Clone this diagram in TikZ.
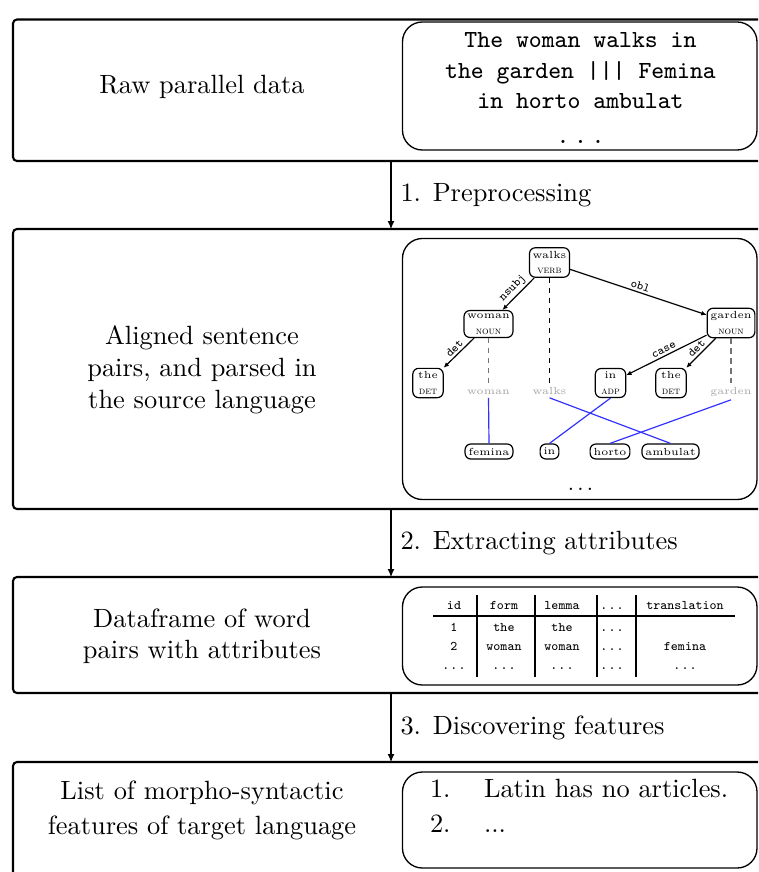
\documentclass[tikz,border=0pt]{standalone}
\usetikzlibrary{arrows.meta}
\def\pxu{0.3788pt}
\newcommand\spdots[1]{.\kern#1.\kern#1.}
\definecolor{alignblue}{RGB}{50,50,255}
\tikzset{
  outerbox/.style={draw, line width=0.8pt, rounded corners=1.5pt, inner sep=0pt, outer sep=0pt, anchor=north west},
  innerbox/.style={draw, line width=0.5pt, rounded corners=7.5pt, inner sep=0pt, outer sep=0pt, anchor=north west, minimum width={354.5*\pxu}},
  flow/.style={-{Latex[length=3pt,width=2.6pt]}, line width=0.4pt},
  steplabel/.style={anchor=west, inner sep=0pt, xshift=3.4pt, font=\fontsize{10}{12}\selectfont},
  sidetext/.style={align=center, inner sep=0pt},
  tnode/.style={draw, rounded corners=2.2pt, line width=0.45pt, inner sep=1.2pt, align=center, minimum width=11.5pt, font=\fontsize{3.9}{6}\selectfont},
  leaf/.style={draw, rounded corners=2.2pt, line width=0.45pt, inner xsep=1.3pt, inner ysep=0pt, minimum height=5.7pt, font=\fontsize{3.9}{6}\selectfont},
  gword/.style={text=black!35, inner sep=1.2pt, anchor=base, font=\fontsize{3.9}{6}\selectfont},
  dep/.style={-{Latex[length=2pt,width=1.8pt]}, line width=0.45pt},
  deplbl/.style={sloped, above, inner sep=0.8pt, font=\fontsize{4.6}{5}\ttfamily},
  proj/.style={dash pattern=on 2pt off 1.8pt, line width=0.5pt},
  alignline/.style={line width=0.45pt, draw=alignblue},
  cell/.style={anchor=base, inner sep=0pt, font=\fontsize{5}{6}\ttfamily},
  rawtxt/.style={anchor=base, inner sep=0pt, font=\fontsize{9.3}{11.5}\ttfamily},
  listtxt/.style={anchor=base west, inner sep=0pt, font=\fontsize{10}{12}\selectfont},
  rule/.style={line width=0.4pt},
}
\begin{document}
\begin{tikzpicture}[x=0.3788pt, y=-0.3788pt]
\useasboundingbox (0,0) rectangle (758,872);
\clip (0,0) rectangle (758,872);
\fill[white] (0,0) rectangle (758,872);

% outer stage boxes
\node[outerbox, minimum width={767*\pxu}, minimum height={141.5*\pxu}] (b1) at (13,19.5) {};
\node[outerbox, minimum width={767*\pxu}, minimum height={280*\pxu}] (b2) at (13,229) {};
\node[outerbox, minimum width={767*\pxu}, minimum height={116*\pxu}] (b3) at (13,577) {};
\node[outerbox, minimum width={767*\pxu}, minimum height={140*\pxu}] (b4) at (13,762) {};

% inner boxes
\node[innerbox, minimum height={128*\pxu}] (i1) at (402.5,22) {};
\node[innerbox, minimum height={261*\pxu}] (i2) at (402.5,238.5) {};
\node[innerbox, minimum height={98*\pxu}] (i3) at (402.5,587) {};
\node[innerbox, minimum height={96*\pxu}] (i4) at (402.5,772) {};

% left descriptions
\node[sidetext, font=\fontsize{10}{12}\selectfont] (t1) at (202,86.5) {Raw parallel data};
\node[sidetext, font=\fontsize{10}{12.1}\selectfont] (t2) at (202,369.4) {Aligned sentence\\pairs, and parsed in\\the source language};
\node[sidetext, font=\fontsize{10}{11.7}\selectfont] (t3) at (202,636) {Dataframe of word\\pairs with attributes};
\node[sidetext, font=\fontsize{10}{13.2}\selectfont] (t4) at (202,810) {List of morpho-syntactic\\features of target language};

% flow arrows
\coordinate (ax) at (391,0);
\draw[flow] (b1.south -| ax) -- node[steplabel] {1. Preprocessing} (b2.north -| ax);
\draw[flow] (b2.south -| ax) -- node[steplabel] {2. Extracting attributes} (b3.north -| ax);
\draw[flow] (b3.south -| ax) -- node[steplabel] {3. Discovering features} (b4.north -| ax);

% raw data
\node[rawtxt] (r1) at (580.5,47) {The woman walks in};
\node[rawtxt] (r2) at (580.5,78) {the garden ||| Femina};
\node[rawtxt] (r3) at (580.5,108) {in horto ambulat};
\node[rawtxt] (r4) at (580.5,143) {\spdots{0.19em}};

% dependency tree
\node[tnode] (walks) at (549.5,262.5) {walks\\\textsc{verb}};
\node[tnode] (woman) at (488.5,324) {woman\\\textsc{noun}};
\node[tnode] (garden) at (731,323) {garden\\\textsc{noun}};
\node[tnode] (theL) at (428,383) {the\\\textsc{det}};
\node[tnode] (inA) at (610.5,383) {in\\\textsc{adp}};
\node[tnode] (theR) at (671,383) {the\\\textsc{det}};
\node[gword] (gwoman) at (488.5,394) {woman};
\node[gword] (gwalks) at (549.5,394) {walks};
\node[gword] (ggarden) at (731,394) {garden};
\node[leaf] (femina) at (489,451.5) {femina};
\node[leaf] (inL) at (549.5,451.5) {in};
\node[leaf] (horto) at (610,451.5) {horto};
\node[leaf] (ambulat) at (670.5,451.5) {ambulat};
\node[inner sep=0pt, font=\fontsize{8}{9}\selectfont] (tdots) at (580.5,489) {\spdots{0.15em}};

\draw[dep] (walks) -- node[deplbl] {nsubj} (woman);
\draw[dep] (walks) -- node[deplbl] {obl} (garden);
\draw[dep] (woman) -- node[deplbl] {det} (theL);
\draw[dep] (garden) -- node[deplbl] {case} (inA);
\draw[dep] (garden) -- node[deplbl] {det} (theR);

\draw[proj, black!55] (woman) -- (gwoman);
\draw[proj] (walks) -- (gwalks);
\draw[proj, black!55] (garden) -- (ggarden);

\draw[alignline] (gwoman.south) -- (femina.north);
\draw[alignline] (gwalks.south) -- (ambulat.north);
\draw[alignline] (inA.south) -- (inL.north);
\draw[alignline] (ggarden.south) -- (horto.north);

% table
\node[cell] (h1) at (454,609) {id};
\node[cell] (h2) at (504,609) {form};
\node[cell] (h3) at (562,609) {lemma};
\node[cell] (h4) at (612,609) {\spdots{0.08em}};
\node[cell] (h5) at (685,609) {translation};
\node[cell] (a1) at (454,631) {1};
\node[cell] (a2) at (504,631) {the};
\node[cell] (a3) at (562,631) {the};
\node[cell] (a4) at (612,631) {\spdots{0.08em}};
\node[cell] (c1) at (454,650) {2};
\node[cell] (c2) at (504,650) {woman};
\node[cell] (c3) at (562,650) {woman};
\node[cell] (c4) at (612,650) {\spdots{0.08em}};
\node[cell] (c5) at (685,650) {femina};
\node[cell] (d1) at (454,669) {\spdots{0.08em}};
\node[cell] (d2) at (504,669) {\spdots{0.08em}};
\node[cell] (d3) at (562,669) {\spdots{0.08em}};
\node[cell] (d4) at (612,669) {\spdots{0.08em}};
\node[cell] (d5) at (685,669) {\spdots{0.08em}};
\draw[rule] (433,616) -- (735,616);
\foreach \vx in {477,535,597,636} \draw[rule] (\vx,595) -- (\vx,677);

% feature list
\node[listtxt] (n1) at (429.5,797) {1.};
\node[listtxt] (f1) at (483.5,797) {Latin has no articles.};
\node[listtxt] (n2) at (429.5,832) {2.};
\node[listtxt] (f2) at (483.5,832) {...};
\end{tikzpicture}
\end{document}
